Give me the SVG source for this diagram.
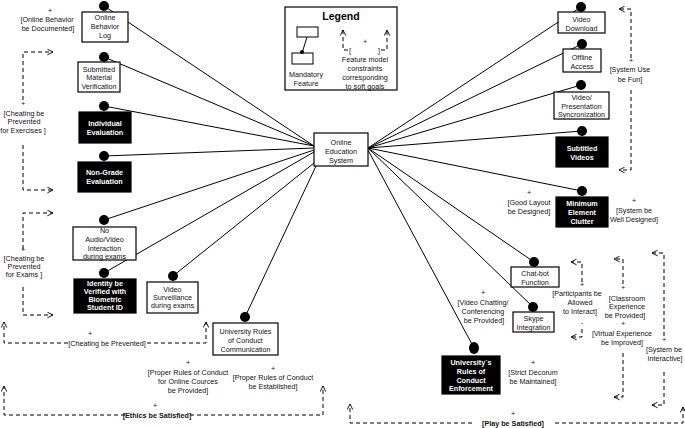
<svg xmlns="http://www.w3.org/2000/svg" width="685" height="428" viewBox="0 0 685 428">
<defs>
<marker id="arr" viewBox="0 0 10 10" refX="9" refY="5" markerWidth="7" markerHeight="7" orient="auto" markerUnits="userSpaceOnUse">
<path d="M1,1 L9,5 L1,9" fill="none" stroke="#000" stroke-width="1.3"/>
</marker>
<style>
.t{font-family:"Liberation Sans",Arial,sans-serif;font-size:7.2px;fill:#111;text-anchor:middle}
.w{fill:#fff;font-weight:bold}
.b{font-weight:bold}
.box{fill:#fff;stroke:#000;stroke-width:1.2}
.blk{fill:#000;stroke:#000;stroke-width:1.2}
.ln{stroke:#000;stroke-width:1;fill:none}
.dot{fill:#000}
.dash{stroke:#000;stroke-width:1;fill:none;stroke-dasharray:4 3;marker-end:url(#arr)}
</style>
</defs>
<rect width="685" height="428" fill="#fff"/>

<g id="connectors">
<line class="ln" x1="314" y1="146" x2="104" y2="6"/>
<line class="ln" x1="314" y1="146" x2="104" y2="57"/>
<line class="ln" x1="314" y1="146" x2="104" y2="106"/>
<line class="ln" x1="314" y1="148" x2="104" y2="156"/>
<line class="ln" x1="314" y1="150" x2="104" y2="220"/>
<line class="ln" x1="314" y1="152" x2="104" y2="273"/>
<line class="ln" x1="314" y1="163" x2="173" y2="276"/>
<line class="ln" x1="316" y1="166" x2="245" y2="317"/>
<line class="ln" x1="368" y1="148" x2="581" y2="7"/>
<line class="ln" x1="368" y1="148" x2="582" y2="44"/>
<line class="ln" x1="368" y1="148" x2="581" y2="85"/>
<line class="ln" x1="368" y1="148" x2="582" y2="131"/>
<line class="ln" x1="368" y1="148" x2="582" y2="191"/>
<line class="ln" x1="368" y1="148" x2="534" y2="262"/>
<line class="ln" x1="368" y1="148" x2="533" y2="307"/>
<line class="ln" x1="368" y1="150" x2="474" y2="348"/>
</g>

<g id="center">
<rect class="box" x="314" y="133" width="54" height="33"/>
<text class="t" x="341" y="144.5">Online</text>
<text class="t" x="341" y="153.5">Education</text>
<text class="t" x="341" y="162.5">System</text>
</g>

<g id="obl">
<rect class="box" x="82" y="12" width="46" height="30"/>
<circle class="dot" cx="104" cy="6" r="5"/>
<text class="t" x="105" y="19.5">Online</text>
<text class="t" x="105" y="28.5">Behavior</text>
<text class="t" x="105" y="37.5">Log</text>
</g>
<g id="smv">
<rect class="box" x="78" y="62" width="42" height="30"/>
<circle class="dot" cx="104" cy="57" r="5"/>
<text class="t" x="99" y="71.5">Submitted</text>
<text class="t" x="99" y="80">Material</text>
<text class="t" x="99" y="88.5">Verification</text>
</g>
<g id="ie">
<rect class="blk" x="79" y="112" width="52" height="31"/>
<circle class="dot" cx="104" cy="106" r="5"/>
<text class="t w" x="105" y="125.5">Individual</text>
<text class="t w" x="105" y="134.5">Evaluation</text>
</g>
<g id="nge">
<rect class="blk" x="78" y="162" width="53" height="30"/>
<circle class="dot" cx="104" cy="156" r="5"/>
<text class="t w" x="104.5" y="174.5">Non-Grade</text>
<text class="t w" x="104.5" y="183.5">Evaluation</text>
</g>
<g id="nav">
<rect class="box" x="73" y="227" width="63" height="33"/>
<circle class="dot" cx="104" cy="220" r="5"/>
<text class="t" x="104.5" y="232.5">No</text>
<text class="t" x="104.5" y="241.5">Audio/Video</text>
<text class="t" x="104.5" y="250.5">Interaction</text>
<text class="t" x="104.5" y="258.5">during exams</text>
</g>
<g id="idv">
<rect class="blk" x="74" y="279" width="62" height="34"/>
<circle class="dot" cx="104" cy="273" r="5"/>
<text class="t w" x="105" y="285.5">Identity be</text>
<text class="t w" x="105" y="293.5">Verified with</text>
<text class="t w" x="105" y="301.5">Biometric</text>
<text class="t w" x="105" y="310">Student ID</text>
</g>
<g id="vs">
<rect class="box" x="147" y="282" width="51" height="31"/>
<circle class="dot" cx="173" cy="276" r="5"/>
<text class="t" x="172.5" y="291.5">Video</text>
<text class="t" x="172.5" y="299.5">Surveillance</text>
<text class="t" x="172.5" y="307.5">during exams</text>
</g>
<g id="urcc">
<rect class="box" x="213" y="323" width="65" height="32"/>
<circle class="dot" cx="245" cy="317" r="5"/>
<text class="t" x="245.5" y="333.5">University Rules</text>
<text class="t" x="245.5" y="342.5">of Conduct</text>
<text class="t" x="245.5" y="351.5">Communication</text>
</g>

<g id="vd">
<rect class="box" x="558" y="12" width="47" height="21"/>
<circle class="dot" cx="581" cy="7" r="5"/>
<text class="t" x="581.5" y="21.5">Video</text>
<text class="t" x="581.5" y="30.5">Download</text>
</g>
<g id="oa">
<rect class="box" x="563" y="49" width="38" height="23"/>
<circle class="dot" cx="582" cy="44" r="5"/>
<text class="t" x="582" y="59.5">Offline</text>
<text class="t" x="582" y="68.5">Access</text>
</g>
<g id="vps">
<rect class="box" x="554" y="92" width="55" height="27"/>
<circle class="dot" cx="581" cy="85" r="5"/>
<text class="t" x="581.5" y="99.5">Video/</text>
<text class="t" x="581.5" y="108.5">Presentation</text>
<text class="t" x="581.5" y="117">Syncronization</text>
</g>
<g id="sv">
<rect class="blk" x="556" y="137" width="52" height="30"/>
<circle class="dot" cx="582" cy="131" r="5"/>
<text class="t w" x="582" y="150.5">Subtitled</text>
<text class="t w" x="582" y="159.5">Videos</text>
</g>
<g id="mec">
<rect class="blk" x="556" y="197" width="52" height="30"/>
<circle class="dot" cx="582" cy="191" r="5"/>
<text class="t w" x="582" y="205.5">Minimum</text>
<text class="t w" x="582" y="214.5">Element</text>
<text class="t w" x="582" y="223.5">Clutter</text>
</g>
<g id="cb">
<rect class="box" x="511" y="267" width="48" height="20"/>
<circle class="dot" cx="534" cy="262" r="5"/>
<text class="t" x="535" y="275.5">Chat-bot</text>
<text class="t" x="535" y="284.5">Function</text>
</g>
<g id="sk">
<rect class="box" x="513" y="312" width="41" height="20"/>
<circle class="dot" cx="533" cy="307" r="5"/>
<text class="t" x="533.5" y="320.5">Skype</text>
<text class="t" x="533.5" y="329.5">Integration</text>
</g>
<g id="uce">
<rect class="blk" x="442" y="356" width="58" height="38"/>
<ellipse class="dot" cx="474" cy="348" rx="5" ry="6"/>
<text class="t w" x="471" y="364.5">University`s</text>
<text class="t w" x="471" y="373.5">Rules of</text>
<text class="t w" x="471" y="382.5">Conduct</text>
<text class="t w" x="471" y="391">Enforcement</text>
</g>

<g id="legend">
<rect class="box" x="285" y="7" width="112" height="83"/>
<text class="t b" x="341" y="19.5" style="font-size:10.5px;fill:#000">Legend</text>
<rect class="box" x="297" y="27" width="21" height="10" style="stroke-width:1"/>
<rect class="box" x="292" y="53" width="21" height="11" style="stroke-width:1"/>
<line class="ln" x1="307" y1="37" x2="302" y2="53"/>
<circle class="dot" cx="302" cy="52" r="2"/>
<text class="t" x="306" y="77">Mandatory</text>
<text class="t" x="306" y="86">Feature</text>
<path class="dash" d="M348,50 H343 V30"/>
<path class="dash" d="M381,50 H387 V30"/>
<text class="t" x="365" y="43.5">+</text>
<text class="t" x="350" y="52.5">[</text>
<text class="t" x="379" y="52.5">]</text>
<text class="t" x="365" y="62">Feature model</text>
<text class="t" x="365" y="71">constraints</text>
<text class="t" x="365" y="80">corresponding</text>
<text class="t" x="365" y="89">to soft goals</text>
</g>

<g id="constraints">
<text class="t" x="50" y="13">+</text>
<text class="t" x="47" y="21.5">[Online Behavior</text>
<text class="t" x="48" y="30.5">be Documented]</text>

<path class="dash" d="M23,100 V52 H53"/>
<text class="t" x="23" y="106">+</text>
<text class="t" x="24" y="115.5">[Cheating be</text>
<text class="t" x="24" y="123.5">Prevented</text>
<text class="t" x="23" y="132.5">for Exercises ]</text>
<path class="dash" d="M23,145 V190 H53"/>

<path class="dash" d="M23,249 V213 H53"/>
<text class="t" x="23" y="251.5">+</text>
<text class="t" x="24" y="260.5">[Cheating be</text>
<text class="t" x="24" y="268.5">Prevented</text>
<text class="t" x="24" y="276.5">for Exams ]</text>
<path class="dash" d="M23,287 V315 H53"/>

<path class="dash" d="M68,343 H4 V322"/>
<text class="t" x="90" y="335.5">+</text>
<text class="t" x="107" y="345.5">[Cheating be Prevented]</text>
<path class="dash" d="M147,343 H206 V322"/>

<path class="dash" d="M125,415 H4 V386"/>
<text class="t" x="155" y="407.5">+</text>
<text class="t b" x="157" y="417.5">[Ethics  be Satisfied]</text>
<path class="dash" d="M190,415 H323 V386"/>

<path class="dash" d="M472,423 H350 V404"/>
<text class="t" x="513" y="416">+</text>
<text class="t b" x="513" y="425.5">[Play  be Satisfied]</text>
<path class="dash" d="M555,423 H683 V407"/>

<path class="dash" d="M631,58 V9 H619"/>
<text class="t" x="631" y="63">+</text>
<text class="t" x="630" y="71.5">[System Use</text>
<text class="t" x="630" y="81.5">be Fun]</text>
<path class="dash" d="M631,90 V170 H619"/>

<text class="t" x="529" y="195">+</text>
<text class="t" x="529" y="204.5">[Good Layout</text>
<text class="t" x="529" y="213.5">be Designed]</text>
<text class="t" x="634" y="203">+</text>
<text class="t" x="634" y="212.5">[System be</text>
<text class="t" x="634" y="221.5">Well Designed]</text>

<path class="dash" d="M582,282 V262 H571"/>
<text class="t" x="582" y="287">+</text>
<text class="t" x="577" y="295.5">[Participants be</text>
<text class="t" x="580" y="304.5">Allowed</text>
<text class="t" x="580" y="313.5">to Interact]</text>
<text class="t" x="582" y="325">-</text>
<path class="dash" d="M582,329 V337 H571"/>

<path class="dash" d="M623,284 V259 H614"/>
<text class="t" x="623" y="290">+</text>
<text class="t" x="627" y="300.5">[Classroom</text>
<text class="t" x="627" y="308.5">Experience</text>
<text class="t" x="625" y="317.5">be Provided]</text>
<text class="t" x="623" y="326">+</text>
<text class="t" x="622" y="335.5">[Virtual Experience</text>
<text class="t" x="622" y="344.5">be Improved]</text>
<path class="dash" d="M623,353 V397 H614"/>

<path class="dash" d="M664,336 V253 H652"/>
<text class="t" x="664" y="342">+</text>
<text class="t" x="664" y="351.5">[System be</text>
<text class="t" x="665" y="360.5">Interactive]</text>
<path class="dash" d="M664,372 V405 H652"/>

<text class="t" x="483" y="295">+</text>
<text class="t" x="483" y="304.5">[Video Chatting/</text>
<text class="t" x="483" y="313.5">Conferencing</text>
<text class="t" x="484" y="322.5">be Provided]</text>

<text class="t" x="533" y="365">+</text>
<text class="t" x="533" y="374.5">[Strict Decorum</text>
<text class="t" x="533" y="383.5">be Maintained]</text>

<text class="t" x="188" y="365">+</text>
<text class="t" x="188" y="374.5">[Proper Rules of Conduct</text>
<text class="t" x="188" y="383.5">for Online Cources</text>
<text class="t" x="188" y="392.5">be Provided]</text>

<text class="t" x="273" y="370.5">+</text>
<text class="t" x="273" y="379.5">[Proper Rules of Conduct</text>
<text class="t" x="273" y="388.5">be Established]</text>
</g>
</svg>
